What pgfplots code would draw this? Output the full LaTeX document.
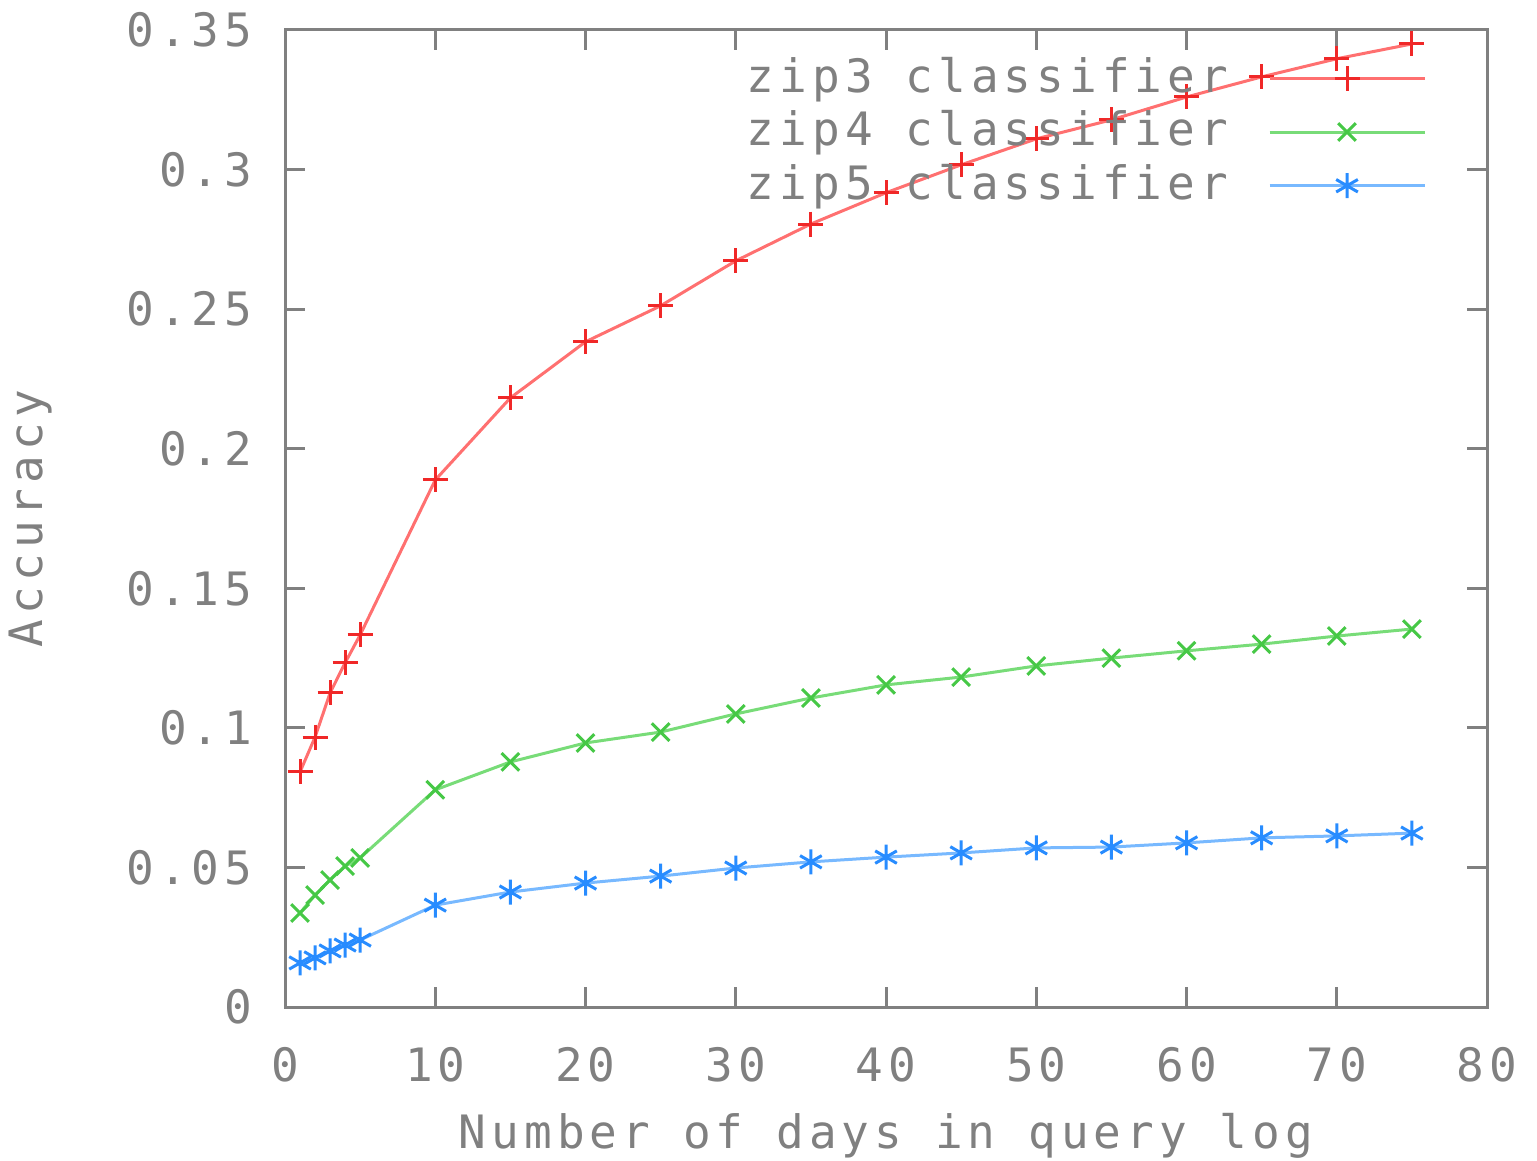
\documentclass[border=0pt]{standalone}
\usepackage{fontspec}
\usepackage{pgfplots}
\pgfplotsset{compat=1.18}
\usetikzlibrary{calc}
\newfontfamily\gp{DejaVu Sans Mono}[LetterSpace=11]
\definecolor{gpgray}{RGB}{128,128,128}
\definecolor{zthree}{RGB}{255,112,112}
\definecolor{zthreem}{RGB}{240,40,40}
\definecolor{zfour}{RGB}{120,220,120}
\definecolor{zfourm}{RGB}{70,200,70}
\definecolor{zfive}{RGB}{120,185,255}
\definecolor{zfivem}{RGB}{40,140,255}

\begin{document}
\begin{tikzpicture}
\begin{axis}[
  name=ax,
  scale only axis,
  width=240.4pt, height=195.4pt,
  xmin=0, xmax=80, ymin=0, ymax=0.35,
  xtick={0,10,...,80},
  ytick={0,0.05,0.1,0.15,0.2,0.25,0.3,0.35},
  yticklabel style={/pgf/number format/fixed, /pgf/number format/precision=2, xshift=-3pt},
  xticklabel style={yshift=-4.5pt},
  /pgf/number format/assume math mode=true,
  tick label style={font=\gp\fontsize{9.2}{11}\selectfont, text=gpgray},
  label style={font=\gp\fontsize{9.2}{11}\selectfont, text=gpgray},
  axis line style={gpgray, line width=0.6pt},
  tick style={gpgray, line width=0.6pt},
  major tick length=4pt,
  tick align=inside,
  xlabel={Number of days in query log},
  ylabel={Accuracy},
  xlabel style={at={(axis description cs:0.5,-0.132)}, anchor=center},
  ylabel style={at={(axis description cs:-0.212,0.5)}, anchor=center},
  legend style={draw=none, fill=none, at={(rel axis cs:1,1)}, anchor=north east,
    xshift=-9pt, yshift=-1.2pt, font=\gp\fontsize{9.2}{11}\selectfont, text=gpgray,
    row sep=-1.8pt},
  legend cell align=right,
  legend plot pos=right,
  legend image code/.code={\path (0pt,0pt); \draw[#1, mark repeat=2, mark phase=2] plot coordinates {(6pt,0pt) (21.5pt,0pt) (37pt,0pt)};},
]
\addplot[color=zthree, line width=0.6pt, mark=+, mark size=2.5pt, mark options={zthreem, line width=0.6pt}] coordinates {
  (1,0.0842) (2,0.0967) (3,0.1125) (4,0.1233) (5,0.1333) (10,0.1888) (15,0.2182)
  (20,0.2383) (25,0.2512) (30,0.2673) (35,0.2805) (40,0.2917) (45,0.3017)
  (50,0.3110) (55,0.3178) (60,0.3260) (65,0.3332) (70,0.3397) (75,0.3450)
};
\addlegendentry{zip3 classifier}
\addplot[color=zfour, line width=0.6pt, mark=x, mark size=2.5pt, mark options={zfourm, line width=0.6pt}] coordinates {
  (1,0.0337) (2,0.0401) (3,0.0455) (4,0.0505) (5,0.0534) (10,0.0778) (15,0.0878)
  (20,0.0946) (25,0.0985) (30,0.1050) (35,0.1107) (40,0.1154) (45,0.1182)
  (50,0.1222) (55,0.1250) (60,0.1276) (65,0.1300) (70,0.1329) (75,0.1354)
};
\addlegendentry{zip4 classifier}
\addplot[color=zfive, line width=0.6pt, mark=asterisk, mark size=2.5pt, mark options={zfivem, line width=0.6pt}] coordinates {
  (1,0.0158) (2,0.0176) (3,0.0201) (4,0.0222) (5,0.0240) (10,0.0365) (15,0.0412)
  (20,0.0444) (25,0.0469) (30,0.0498) (35,0.0520) (40,0.0537) (45,0.0552)
  (50,0.0570) (55,0.0573) (60,0.0588) (65,0.0606) (70,0.0613) (75,0.0623)
};
\addlegendentry{zip5 classifier}
\end{axis}
\pgfresetboundingbox
\path ($(ax.south west)+(-57pt,-30.6pt)$) rectangle ($(ax.north east)+(10pt,6pt)$);
\end{tikzpicture}
\end{document}
